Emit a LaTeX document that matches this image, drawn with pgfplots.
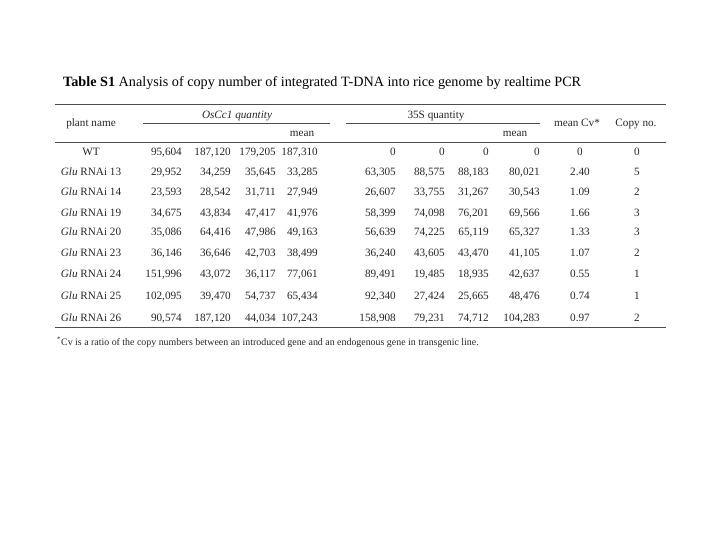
\documentclass[border=0pt]{standalone}
\usepackage{pgfplots}
\pgfplotsset{compat=1.18}
\usepackage{fontspec}
\setmainfont{Liberation Serif}
\begin{document}
\begin{tikzpicture}
\begin{axis}[scale only axis, width=720pt, height=540pt,
  xmin=0, xmax=720, ymin=0, ymax=540, y dir=reverse,
  axis lines=none, clip=false,
  point meta=explicit symbolic,
  every node near coord/.append style={font=\fontsize{11.2}{13}\selectfont, inner sep=0pt, anchor=base east, text=black!85, text opacity=1},
  ]
\path (axis cs:0,0) rectangle (axis cs:720,540);
% row labels (centered)
\addplot[only marks, mark=*, mark options={draw opacity=0, fill opacity=0}, nodes near coords, nodes near coords style={anchor=base}] coordinates {
(91,156) [WT]
(91,176) [\textit{Glu} RNAi 13]
(91,196) [\textit{Glu} RNAi 14]
(91,216) [\textit{Glu} RNAi 19]
(91,236) [\textit{Glu} RNAi 20]
(91,256) [\textit{Glu} RNAi 23]
(91,277) [\textit{Glu} RNAi 24]
(91,299) [\textit{Glu} RNAi 25]
(91,321) [\textit{Glu} RNAi 26]
};
% OsCc1 quantity columns
\addplot[only marks, mark=*, mark options={draw opacity=0, fill opacity=0}, nodes near coords] coordinates {
(182,156) [95,604] (182,176) [29,952] (182,196) [23,593] (182,216) [34,675] (182,236) [35,086]
(182,256) [36,146] (182,277) [151,996] (182,299) [102,095] (182,321) [90,574]
};
\addplot[only marks, mark=*, mark options={draw opacity=0, fill opacity=0}, nodes near coords] coordinates {
(231,156) [187,120] (231,176) [34,259] (231,196) [28,542] (231,216) [43,834] (231,236) [64,416]
(231,256) [36,646] (231,277) [43,072] (231,299) [39,470] (231,321) [187,120]
};
\addplot[only marks, mark=*, mark options={draw opacity=0, fill opacity=0}, nodes near coords] coordinates {
(276,156) [179,205] (276,176) [35,645] (276,196) [31,711] (276,216) [47,417] (276,236) [47,986]
(276,256) [42,703] (276,277) [36,117] (276,299) [54,737] (276,321) [44,034]
};
\addplot[only marks, mark=*, mark options={draw opacity=0, fill opacity=0}, nodes near coords] coordinates {
(318,156) [187,310] (318,176) [33,285] (318,196) [27,949] (318,216) [41,976] (318,236) [49,163]
(318,256) [38,499] (318,277) [77,061] (318,299) [65,434] (318,321) [107,243]
};
% 35S quantity columns
\addplot[only marks, mark=*, mark options={draw opacity=0, fill opacity=0}, nodes near coords] coordinates {
(396,156) [0] (396,176) [63,305] (396,196) [26,607] (396,216) [58,399] (396,236) [56,639]
(396,256) [36,240] (396,277) [89,491] (396,299) [92,340] (396,321) [158,908]
};
\addplot[only marks, mark=*, mark options={draw opacity=0, fill opacity=0}, nodes near coords] coordinates {
(445,156) [0] (445,176) [88,575] (445,196) [33,755] (445,216) [74,098] (445,236) [74,225]
(445,256) [43,605] (445,277) [19,485] (445,299) [27,424] (445,321) [79,231]
};
\addplot[only marks, mark=*, mark options={draw opacity=0, fill opacity=0}, nodes near coords] coordinates {
(489,156) [0] (489,176) [88,183] (489,196) [31,267] (489,216) [76,201] (489,236) [65,119]
(489,256) [43,470] (489,277) [18,935] (489,299) [25,665] (489,321) [74,712]
};
\addplot[only marks, mark=*, mark options={draw opacity=0, fill opacity=0}, nodes near coords] coordinates {
(540,156) [0] (540,176) [80,021] (540,196) [30,543] (540,216) [69,566] (540,236) [65,327]
(540,256) [41,105] (540,277) [42,637] (540,299) [48,476] (540,321) [104,283]
};
% mean Cv (centered)
\addplot[only marks, mark=*, mark options={draw opacity=0, fill opacity=0}, nodes near coords, nodes near coords style={anchor=base}] coordinates {
(580,156) [0] (580,176) [2.40] (580,196) [1.09] (580,216) [1.66] (580,236) [1.33]
(580,256) [1.07] (580,277) [0.55] (580,299) [0.74] (580,321) [0.97]
};
% copy no. (centered)
\addplot[only marks, mark=*, mark options={draw opacity=0, fill opacity=0}, nodes near coords, nodes near coords style={anchor=base}] coordinates {
(637,156) [0] (637,176) [5] (637,196) [2] (637,216) [3] (637,236) [3]
(637,256) [2] (637,277) [1] (637,299) [1] (637,321) [2]
};
% title
\node[anchor=base west, inner sep=0pt, font=\fontsize{14.2}{16}\selectfont] at (axis cs:63,87) {\textbf{Table S1} Analysis of copy number of integrated T-DNA into rice genome by realtime PCR};
% header
\begin{scope}[every node/.style={inner sep=0pt, font=\fontsize{11.2}{13}\selectfont, text=black!85}]
\node[anchor=base] at (axis cs:91,127) {plant name};
\node[anchor=base] at (axis cs:237,119) {\textit{OsCc1 quantity}};
\node[anchor=base] at (axis cs:436,119) {35S quantity};
\node[anchor=base] at (axis cs:302,137) {mean};
\node[anchor=base] at (axis cs:515,137) {mean};
\node[anchor=base] at (axis cs:577,127) {mean Cv*};
\node[anchor=base] at (axis cs:636,127) {Copy no.};
\end{scope}
% rules
\draw[line width=1pt, black!70] (axis cs:55,105) -- (axis cs:666,105);
\draw[line width=0.6pt, black!70] (axis cs:143,123) -- (axis cs:330,123);
\draw[line width=0.6pt, black!70] (axis cs:346,123) -- (axis cs:540,123);
\draw[line width=0.8pt, black!70] (axis cs:55,142) -- (axis cs:666,142);
\draw[line width=1pt, black!70] (axis cs:55,327) -- (axis cs:666,327);
% footnote
\node[anchor=base west, inner sep=0pt, font=\fontsize{9.9}{11}\selectfont, text=black!85] at (axis cs:57,345) {\textsuperscript{*}Cv is a ratio of the copy numbers between an introduced gene and an endogenous gene in transgenic line.};
\end{axis}
\end{tikzpicture}
\end{document}
